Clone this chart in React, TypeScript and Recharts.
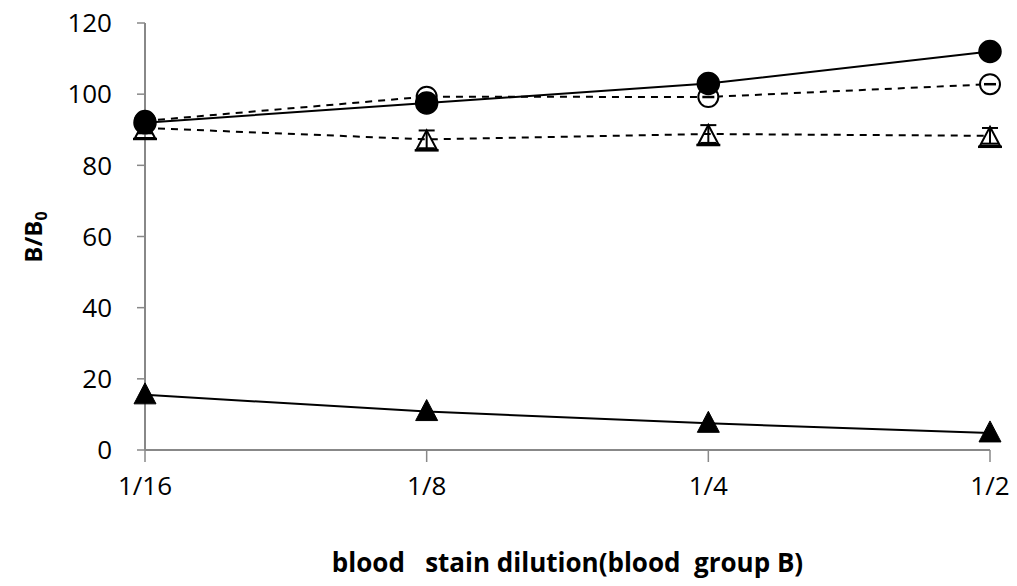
import { LineChart, Line, XAxis, YAxis, ErrorBar, Label } from 'recharts';

// dilution steps on x
const dilutions = ['1/16', '1/8', '1/4', '1/2'];

// B/B0 values
const filledCircle = [92, 97.5, 103, 112];
const openCircle = [92.5, 99.3, 99.2, 102.8];
const openTriangle = [90.5, 87.3, 88.8, 88.3];
const openTriangleErr = [1.5, 2.5, 2.5, 2.2];
const filledTriangle = [15.5, 10.8, 7.5, 4.8];

const yTicks = [0, 20, 40, 60, 80, 100, 120];

const data = dilutions.map((d, i) => ({
  name: d,
  fc: filledCircle[i],
  oc: openCircle[i],
  ot: openTriangle[i],
  otErr: openTriangleErr[i],
  ft: filledTriangle[i],
}));

const FONT = 'Open Sans, sans-serif';

const FilledCircle = (p: any) => (
  <circle key={`fc${p.index}`} cx={p.cx} cy={p.cy} r={11} fill="#000" stroke="#000" strokeWidth={1.5} />
);
const OpenCircle = (p: any) => (
  <g key={`oc${p.index}`}>
    <circle cx={p.cx} cy={p.cy} r={10} fill="#fff" stroke="#000" strokeWidth={2} />
    <line x1={p.cx - 6} x2={p.cx + 6} y1={p.cy} y2={p.cy} stroke="#000" strokeWidth={2.5} />
  </g>
);
const OpenTriangle = (p: any) => (
  <g key={`ot${p.index}`}>
    <polygon
      points={`${p.cx},${p.cy - 9} ${p.cx + 10},${p.cy + 10} ${p.cx - 10},${p.cy + 10}`}
      fill="none"
      stroke="#000"
      strokeWidth={2}
    />
    <line x1={p.cx - 12} x2={p.cx + 12} y1={p.cy + 11} y2={p.cy + 11} stroke="#000" strokeWidth={2.5} />
  </g>
);
const FilledTriangle = (p: any) => (
  <polygon
    key={`ft${p.index}`}
    points={`${p.cx},${p.cy - 12} ${p.cx + 11},${p.cy + 9} ${p.cx - 11},${p.cy + 9}`}
    fill="#000"
    stroke="#000"
  />
);

const YTitle = () => (
  <text
    x={42}
    y={237}
    transform="rotate(-90 42 237)"
    textAnchor="middle"
    fontFamily={FONT}
    fontWeight="bold"
    fontSize={24}
    fill="#000"
  >
    B/B<tspan fontSize={16} dy={5}>0</tspan>
  </text>
);

export default function App() {
  return (
    <div style={{ position: 'absolute', left: 0, top: 0, background: '#fff' }}>
      <LineChart width={1017} height={586} data={data} margin={{ top: 23, right: 27, bottom: 0, left: 0 }}>
        <XAxis
          dataKey="name"
          axisLine={{ stroke: '#888', strokeWidth: 2 }}
          tickLine={{ stroke: '#888', strokeWidth: 1.5 }}
          tickSize={12}
          tickMargin={15}
          height={136}
          tick={{ fill: '#000', fontSize: 26, fontFamily: FONT }}
          interval={0}
        >
          <Label
            value={'blood\u00a0\u00a0 stain dilution(blood\u00a0 group B)'}
            position="insideBottom"
            offset={14}
            style={{ fontFamily: FONT, fontWeight: 'bold', fontSize: 26, fill: '#000' }}
          />
        </XAxis>
        <YAxis
          domain={[0, 120]}
          ticks={yTicks}
          width={145}
          axisLine={{ stroke: '#888', strokeWidth: 2 }}
          tickLine={{ stroke: '#888', strokeWidth: 1.5 }}
          tickSize={8}
          tickMargin={25}
          tick={{ fill: '#000', fontSize: 26, fontFamily: FONT }}
        >
          <Label content={<YTitle />} />
        </YAxis>
        <Line dataKey="ft" stroke="#000" strokeWidth={2} dot={FilledTriangle} activeDot={false} isAnimationActive={false} />
        <Line dataKey="ot" stroke="#000" strokeWidth={2} strokeDasharray="7 6" dot={OpenTriangle} activeDot={false} isAnimationActive={false}>
          <ErrorBar dataKey="otErr" width={8} stroke="#000" strokeWidth={2} direction="y" />
        </Line>
        <Line dataKey="oc" stroke="#000" strokeWidth={2} strokeDasharray="7 6" dot={OpenCircle} activeDot={false} isAnimationActive={false} />
        <Line dataKey="fc" stroke="#000" strokeWidth={2} dot={FilledCircle} activeDot={false} isAnimationActive={false} />
      </LineChart>
    </div>
  );
}
